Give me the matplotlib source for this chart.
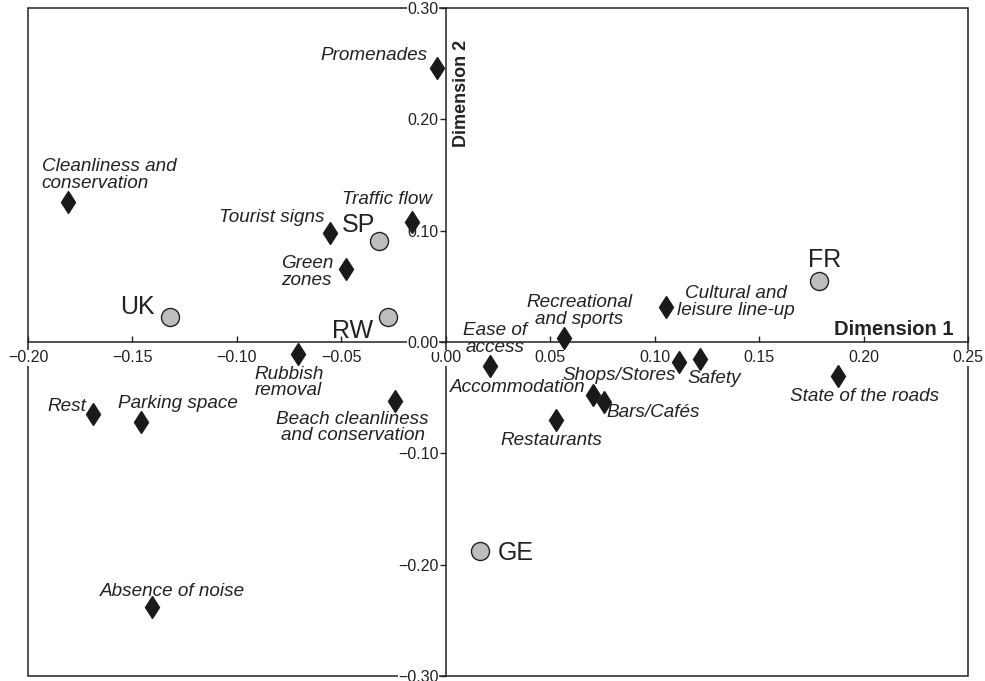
import matplotlib
matplotlib.use("Agg")
from matplotlib import pyplot as plt
from matplotlib.patches import Rectangle

plt.rcParams['font.family'] = ['Liberation Sans', 'DejaVu Sans']

# attributes (diamonds)
atributos = ["Promenades", "Cleanliness and\nconservation", "Tourist signs",
             "Traffic flow", "Green\nzones", "Rubbish\nremoval",
             "Beach cleanliness\nand conservation", "Rest", "Parking space",
             "Absence of noise", "Ease of\naccess", "Recreational\nand sports",
             "Cultural and\nleisure line-up", "Shops/Stores", "Safety",
             "State of the roads", "Accommodation", "Bars/Cafés", "Restaurants"]
atr_x = [-0.0043, -0.181, -0.0552, -0.0164, -0.0476, -0.0706, -0.0244, -0.169,
         -0.1461, -0.1407, 0.0213, 0.0564, 0.1054, 0.1116, 0.1215, 0.188,
         0.0704, 0.0757, 0.0528]
atr_y = [0.246, 0.126, 0.0977, 0.108, 0.0656, -0.0112, -0.0533, -0.0647,
         -0.0722, -0.2384, -0.0217, 0.0037, 0.0315, -0.018, -0.0155, -0.0303,
         -0.0479, -0.054, -0.0704]

# countries (circles)
paises = ["UK", "SP", "RW", "FR", "GE"]
pais_x = [-0.1322, -0.032, -0.0276, 0.1787, 0.0163]
pais_y = [0.0228, 0.091, 0.0222, 0.0547, -0.1878]

x_ticks = [-0.20, -0.15, -0.10, -0.05, 0.00, 0.05, 0.10, 0.15, 0.20, 0.25]
x_labels = ["\u22120.20", "\u22120.15", "\u22120.10", "\u22120.05", "0.00",
            "0.05", "0.10", "0.15", "0.20", "0.25"]
y_ticks = [-0.30, -0.20, -0.10, 0.00, 0.10, 0.20, 0.30]
y_labels = ["\u22120.30", "\u22120.20", "\u22120.10", "0.00", "0.10", "0.20", "0.30"]

# label placement: offset in pixels (dx, dy), ha, va, multialignment
pos_atr = [(-9, 8, "right", "baseline", "center"),
           (-26, 10, "left", "bottom", "left"),
           (-6, 11, "right", "baseline", "center"),
           (20, 18, "right", "baseline", "center"),
           (-13, -3, "right", "center", "left"),
           (-9, -28, "center", "center", "left"),
           (-42, -26, "center", "center", "center"),
           (-6, 3, "right", "baseline", "center"),
           (-23, 14, "left", "baseline", "center"),
           (21, 11, "center", "baseline", "center"),
           (5, 27, "center", "center", "center"),
           (16, 27, "center", "center", "center"),
           (70, 5, "center", "center", "center"),
           (-3, -18, "right", "baseline", "center"),
           (-12, -24, "left", "baseline", "center"),
           (26, -25, "center", "baseline", "center"),
           (-7, 3, "right", "baseline", "center"),
           (3, -15, "left", "baseline", "center"),
           (-5, -25, "center", "baseline", "center")]
pos_pais = [(-15, 3, "right"), (-4, 9, "right"), (-15, -21, "right"),
            (6, 14, "center"), (18, -9, "left")]

fig = plt.figure(figsize=(9.85, 6.81), dpi=100)
ax = fig.add_axes([28/985, 5/681, 940/985, 668/681])
ax.set_xlim(-0.20, 0.25)
ax.set_ylim(-0.30, 0.30)

# outer box
ax.add_patch(Rectangle((0, 0), 1, 1, transform=ax.transAxes, fill=False,
                       lw=1.1, color="#222222", zorder=0.5, clip_on=False))

# axes through the origin
for s in ["top", "right"]:
    ax.spines[s].set_visible(False)
ax.spines["left"].set_position("zero")
ax.spines["bottom"].set_position("zero")
for s in ["left", "bottom"]:
    ax.spines[s].set_zorder(0.6)
    ax.spines[s].set_linewidth(1.1)
    ax.spines[s].set_color("#222222")

ax.set_xticks(x_ticks, x_labels)
ax.set_yticks(y_ticks, y_labels)
ax.tick_params(axis="x", direction="in", length=4, width=1, pad=6,
               labelsize=11.5, colors="#222222")
ax.tick_params(axis="y", direction="out", length=4, width=1, pad=1,
               labelsize=11.5, colors="#222222")
for lab in ax.get_xticklabels() + ax.get_yticklabels():
    lab.set_bbox(dict(facecolor="white", edgecolor="none", pad=0.5))

ax.plot(atr_x, atr_y, ls="none", marker="d", ms=11.5, color="#1a1a1a", zorder=3)
ax.plot(pais_x, pais_y, ls="none", marker="o", ms=13, mfc="#bdbdbd",
        mec="#222222", mew=1, zorder=3)

for nombre, x, y, (dx, dy, ha, va, ma) in zip(atributos, atr_x, atr_y, pos_atr):
    ax.annotate(nombre, (x, y), xytext=(dx, dy), textcoords="offset pixels",
                ha=ha, va=va, ma=ma, fontsize=13.6, style="italic",
                color="#222222", linespacing=0.95, zorder=4)

for nombre, x, y, (dx, dy, ha) in zip(paises, pais_x, pais_y, pos_pais):
    ax.annotate(nombre, (x, y), xytext=(dx, dy), textcoords="offset pixels",
                ha=ha, va="baseline", fontsize=18, color="#222222", zorder=4)

ax.text(0.985, 0.51, "Dimension 1", transform=ax.transAxes, ha="right",
        va="baseline", fontsize=14.5, fontweight="bold", color="#222222")
ax.text(0.4614, 0.792, "Dimension 2", transform=ax.transAxes, ha="center",
        va="bottom", rotation=90, fontsize=13, fontweight="bold",
        color="#222222")

plt.savefig("out.png", dpi=100)
